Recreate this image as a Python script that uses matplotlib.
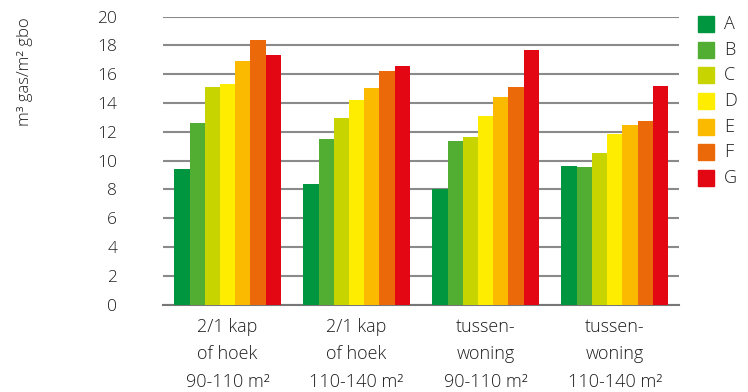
import matplotlib.pyplot as plt
import matplotlib.patches as mpatches
import numpy as np

plt.rcParams['font.family'] = ['Open Sans', 'DejaVu Sans']

groups = ['2/1 kap\nof hoek\n90-110 m²', '2/1 kap\nof hoek\n110-140 m²',
          'tussen-\nwoning\n90-110 m²', 'tussen-\nwoning\n110-140 m²']
labels = ['A', 'B', 'C', 'D', 'E', 'F', 'G']
colors = ['#009640', '#52AE32', '#C8D400', '#FFED00', '#FBBA00', '#EB6909', '#E30613']

# values per energy label, one entry per group
val_A = [9.4, 8.4, 8.0, 9.6]
val_B = [12.6, 11.5, 11.35, 9.55]
val_C = [15.1, 12.95, 11.6, 10.5]
val_D = [15.3, 14.2, 13.1, 11.85]
val_E = [16.9, 15.05, 14.4, 12.45]
val_F = [18.35, 16.2, 15.1, 12.75]
val_G = [17.35, 16.55, 17.65, 15.15]
series = [val_A, val_B, val_C, val_D, val_E, val_F, val_G]

txt = '#1e1e1e'
fig = plt.figure(figsize=(7.48, 3.92), dpi=100)
ax = fig.add_axes([0.218, 0.2232, 0.69, 0.7347])

x = np.arange(len(groups))
w = 0.118
for i, (vals, col) in enumerate(zip(series, colors)):
    ax.bar(x + (i - 3) * w, vals, width=w, color=col, zorder=3, linewidth=0)

ax.set_xlim(-0.5, 3.5)
ax.set_ylim(0, 20)
ax.set_yticks(np.arange(0, 21, 2))
ax.yaxis.grid(True, color='#8a8a8a', linewidth=1.5, zorder=0)
ax.set_axisbelow(True)
for s in ['top', 'right', 'left']:
    ax.spines[s].set_visible(False)
ax.spines['bottom'].set_color('#777777')
ax.spines['bottom'].set_linewidth(1.5)
ax.tick_params(axis='y', length=0, pad=33, labelsize=12.5, labelcolor=txt)
ax.tick_params(axis='x', length=0, pad=10, labelsize=13, labelcolor=txt)
ax.set_xticks(x)
ax.set_xticklabels(groups, linespacing=1.65)
for t in ax.get_xticklabels() + ax.get_yticklabels():
    t.set_fontweight('light')

fig.text(25 / 748, 1 - 17 / 392, 'm³ gas/m² gbo', rotation=90, ha='center', va='top',
         fontsize=12, color=txt, fontweight='light')

# legend
for i, (lab, col) in enumerate(zip(labels, colors)):
    yc = 24 + i * 25.67
    fig.add_artist(mpatches.Rectangle((698 / 748, 1 - (yc + 8) / 392), 16 / 748, 16 / 392,
                                      transform=fig.transFigure, color=col))
    fig.text(724 / 748, 1 - yc / 392, lab, ha='left', va='center', fontsize=13,
             color=txt, fontweight='light')

fig.savefig('out.png', dpi=100)
